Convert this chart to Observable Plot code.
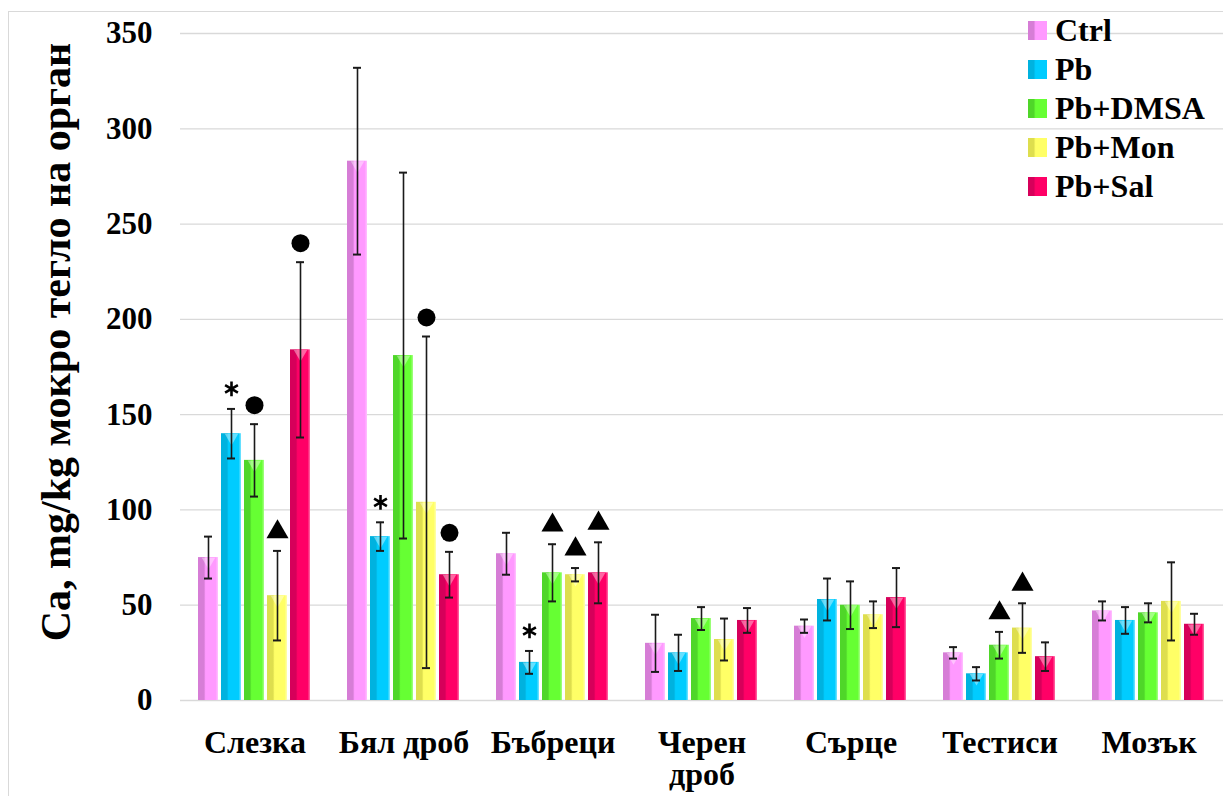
<!DOCTYPE html>
<html>
<head>
<meta charset="utf-8">
<script src="https://cdn.jsdelivr.net/npm/d3@7"></script>
<script src="https://cdn.jsdelivr.net/npm/@observablehq/plot@0.6"></script>
<style>
  body { margin: 0; background: #fff; }
  #wrap { position: relative; width: 1223px; height: 796px; overflow: hidden; background: #fff;
          font-family: "Liberation Serif", "Times New Roman", serif; font-weight: bold; color: #000; }
  #frame { position: absolute; left: 8px; top: 11px; width: 1400px; height: 1000px; border: 1px solid #d9d9d9; }
  #chart { position: absolute; left: 0; top: 0; }
  #chart svg text { font-family: "Liberation Serif", "Times New Roman", serif !important; font-weight: bold !important; fill: #000; }
  #chart svg [aria-label^="y-axis"] text { font-size: 31px !important; }
  #chart svg [aria-label^="fx-axis"] text { font-size: 32px !important; }
  #ytitle { position: absolute; left: 56px; top: 342px; transform: translate(-50%, -50%) rotate(-90deg);
            white-space: nowrap; font-size: 42px; }
  #legend { position: absolute; left: 1028px; top: 11px; font-size: 32px; line-height: 39px; }
  #legend .item { display: flex; align-items: center; white-space: nowrap; }
  #legend .sw { width: 19px; height: 19px; margin-right: 8px; }
</style>
</head>
<body>
<div id="wrap">
  <div id="frame"></div>
  <div id="chart"></div>
  <div id="ytitle">Ca, mg/kg мокро тегло на орган</div>
  <div id="legend"></div>
</div>
<script>
// Organs (x categories) and treatment groups (series)
const organs = ["Слезка", "Бял дроб", "Бъбреци", "Черен дроб", "Сърце", "Тестиси", "Мозък"];
const groups = ["Ctrl", "Pb", "Pb+DMSA", "Pb+Mon", "Pb+Sal"];

// Mean Ca content per organ, one array per group
const ctrlMean = [75, 283, 77, 30, 39, 25, 47];
const pbMean   = [140, 86, 20, 25, 53, 14, 42];
const dmsaMean = [126, 181, 67, 43, 50, 29, 46];
const monMean  = [55, 104, 66, 32, 45, 38, 52];
const salMean  = [184, 66, 67, 42, 54, 23, 40];

// Standard deviations
const ctrlErr = [11, 49, 11, 15, 3.5, 3, 5];
const pbErr   = [13, 7.5, 6, 9.5, 11, 3.5, 7];
const dmsaErr = [19, 96, 15, 6, 12.5, 7, 5];
const monErr  = [23.5, 87, 3.5, 11, 7, 13, 20.5];
const salErr  = [46, 12, 16, 6.5, 15.5, 7.5, 5.5];

// Significance markers: * vs Ctrl, ● / ▲ vs Pb
const ctrlSig = [null, null, null, null, null, null, null];
const pbSig   = ["*", "*", "*", null, null, null, null];
const dmsaSig = ["●", null, "▲", null, null, "▲", null];
const monSig  = ["▲", "●", "▲", null, null, "▲", null];
const salSig  = ["●", "●", "▲", null, null, null, null];

const yTicks = [0, 50, 100, 150, 200, 250, 300, 350];

// Bar colours: shaded left side, base colour, highlight
const shade = ["#d67dd6", "#00b2df", "#4fd629", "#dede4e", "#d6005a"];
const base  = ["#ff99ff", "#00ccff", "#66ff33", "#ffff66", "#ff0066"];
const light = ["#ffc2ff", "#7fe5ff", "#a8ff88", "#ffffb0", "#ff6fa8"];

const means = [ctrlMean, pbMean, dmsaMean, monMean, salMean];
const errs = [ctrlErr, pbErr, dmsaErr, monErr, salErr];
const sigs = [ctrlSig, pbSig, dmsaSig, monSig, salSig];

const rows = groups.flatMap((g, gi) => organs.map((o, oi) => ({
  organ: o, group: g, value: means[gi][oi], err: errs[gi][oi], sig: sigs[gi][oi]
})));

const hi = d => d.value + d.err;
const lo = d => d.value - d.err;

const chart = Plot.plot({
  width: 1223,
  height: 796,
  marginTop: 33,
  marginBottom: 96,
  marginLeft: 179,
  marginRight: 0,
  style: { fontFamily: "'Liberation Serif', 'Times New Roman', serif", fontWeight: "bold", color: "#000", background: "transparent", overflow: "visible" },
  facet: { data: rows, x: "organ" },
  fx: { domain: organs, padding: 0, label: null, tickSize: 0, tickPadding: 30,
        tickFormat: d => d === "Черен дроб" ? "Черен\nдроб" : d },
  x: { domain: groups, axis: null, paddingInner: 0.11, paddingOuter: 0.787 },
  y: { domain: [0, 350], ticks: yTicks, tickSize: 0, tickPadding: 28, label: null },
  color: { type: "ordinal", domain: groups, range: groups.map((g, i) => `url(#bar-grad-${i})`) },
  marks: [
    Plot.ruleY(yTicks, { stroke: "#d9d9d9", strokeWidth: 1.3 }),
    Plot.barY(rows, { x: "group", y: "value", fill: "group" }),
    // bevel highlight at the top of each bar
    Plot.dot(rows, { x: "group", y: "value", symbol: "triangle", rotate: 180, r: 5, fill: "white", fillOpacity: 0.4, dy: 4 }),
    // error bars
    Plot.ruleX(rows, { x: "group", y1: lo, y2: hi, stroke: "#1a1a1a", strokeWidth: 1.6 }),
    Plot.tickY(rows, { x: "group", y: hi, insetLeft: 6, insetRight: 6, stroke: "#1a1a1a", strokeWidth: 2 }),
    Plot.tickY(rows, { x: "group", y: lo, insetLeft: 6, insetRight: 6, stroke: "#1a1a1a", strokeWidth: 2 }),
    // significance markers
    Plot.dot(rows, { filter: d => d.sig === "▲", x: "group", y: hi, dy: -19, symbol: "triangle", r: 8.2, fill: "#000", stroke: "none" }),
    Plot.dot(rows, { filter: d => d.sig === "●", x: "group", y: hi, dy: -19, symbol: "circle", r: 9, fill: "#000", stroke: "none" }),
    Plot.dot(rows, { filter: d => d.sig === "*", x: "group", y: hi, dy: -20, symbol: "asterisk", r: 7, stroke: "#000", strokeWidth: 2.6 })
  ]
});

// gradient fills for the bars
const defs = d3.select(chart).insert("defs", ":first-child");
groups.forEach((g, i) => {
  const lg = defs.append("linearGradient").attr("id", `bar-grad-${i}`).attr("x1", 0).attr("x2", 1).attr("y1", 0).attr("y2", 0);
  [[0, shade[i]], [0.3, shade[i]], [0.38, base[i]], [0.88, base[i]], [1, light[i]]].forEach(([o, c]) =>
    lg.append("stop").attr("offset", o).attr("stop-color", c));
});

document.getElementById("chart").appendChild(chart);

// legend
const legend = d3.select("#legend");
groups.forEach((g, i) => {
  const item = legend.append("div").attr("class", "item");
  item.append("div").attr("class", "sw")
    .style("background", `linear-gradient(to right, ${shade[i]} 0%, ${shade[i]} 30%, ${base[i]} 40%, ${base[i]} 100%)`);
  item.append("span").text(g);
});
</script>
</body>
</html>
